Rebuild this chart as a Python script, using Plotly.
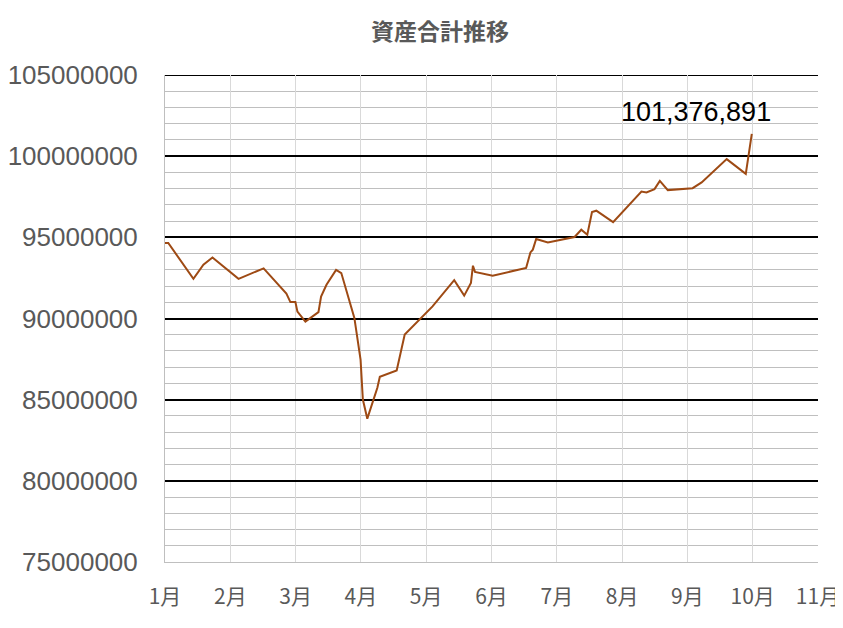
import plotly.graph_objects as go

# x position in months since 1 Jan (0 = 1月, 10 = 11月)
month_pos = [
    0.00, 0.05, 0.435, 0.588, 0.727, 1.126, 1.51, 1.859, 1.92, 1.997,
    2.028, 2.15, 2.35, 2.39, 2.473, 2.62, 2.70, 2.90, 2.995, 3.03,
    3.098, 3.252, 3.29, 3.548, 3.671, 4.097, 4.429, 4.582, 4.685, 4.716,
    4.747, 5.018, 5.53, 5.596, 5.633, 5.684, 5.863, 6.272, 6.375, 6.467,
    6.539, 6.605, 6.862, 7.296, 7.373, 7.496, 7.578, 7.70, 8.08, 8.218,
    8.602, 8.894, 8.986,
]
total_assets = [
    94650000, 94650000, 92450000, 93310000, 93760000, 92440000, 93090000, 91530000, 91010000, 91020000,
    90420000, 89810000, 90390000, 91350000, 92080000, 92990000, 92800000, 90040000, 87470000, 85010000,
    83830000, 85730000, 86410000, 86800000, 89010000, 90750000, 92360000, 91410000, 92190000, 93250000,
    92870000, 92640000, 93110000, 94070000, 94240000, 94900000, 94690000, 95020000, 95470000, 95160000,
    96560000, 96640000, 95940000, 97820000, 97760000, 97970000, 98480000, 97910000, 98030000, 98380000,
    99820000, 98910000, 101376891,
]
month_ticks = list(range(11))
month_labels = [f"{m}月" for m in range(1, 12)]
y_ticks = [75000000, 80000000, 85000000, 90000000, 95000000, 100000000, 105000000]

fig = go.Figure()
fig.add_trace(
    go.Scatter(
        x=month_pos,
        y=total_assets,
        mode="lines",
        line=dict(color="#9E4A14", width=2),
        showlegend=False,
        hoverinfo="skip",
    )
)

fig.add_annotation(
    x=month_pos[-1],
    y=total_assets[-1],
    text=f"{total_assets[-1]:,}",
    showarrow=False,
    xanchor="center",
    yanchor="middle",
    xshift=-56,
    yshift=22,
    font=dict(family="Liberation Sans", size=27, color="#000000"),
)

# plotly drops the gridline at the top edge, so draw the top major line by hand
fig.add_hline(y=y_ticks[-1], line=dict(color="#000000", width=2), layer="below")

# page adds an 8px body margin, so the paper is offset by (8, 8)
fig.update_layout(
    width=843,
    height=628,
    margin=dict(l=157, r=33, t=67, b=74),
    plot_bgcolor="white",
    paper_bgcolor="white",
    title=dict(
        text="<b>資産合計推移</b>",
        x=432 / 843,
        xref="container",
        xanchor="center",
        y=1 - 24 / 628,
        yref="container",
        yanchor="middle",
        font=dict(family="Noto Sans CJK JP", size=23, color="#595959"),
    ),
    xaxis=dict(
        range=[0, 10],
        tickvals=month_ticks,
        ticktext=month_labels,
        showgrid=True,
        gridcolor="#D9D9D9",
        gridwidth=1,
        showline=True,
        linecolor="#BFBFBF",
        linewidth=1,
        zeroline=False,
        ticks="",
        automargin=False,
        ticklabelstandoff=16,
        tickfont=dict(family="Noto Sans CJK JP", size=21, color="#595959"),
    ),
    yaxis=dict(
        range=[75000000, 105000000],
        tickvals=y_ticks,
        ticktext=[str(v) for v in y_ticks],
        showgrid=True,
        gridcolor="#000000",
        gridwidth=2,
        minor=dict(dtick=1000000, showgrid=True, gridcolor="#BFBFBF", gridwidth=1),
        showline=True,
        linecolor="#BFBFBF",
        linewidth=1,
        zeroline=False,
        ticks="",
        automargin=False,
        ticklabelstandoff=21,
        tickfont=dict(family="Liberation Sans", size=26, color="#595959"),
    ),
)

fig.write_html("out.html")
